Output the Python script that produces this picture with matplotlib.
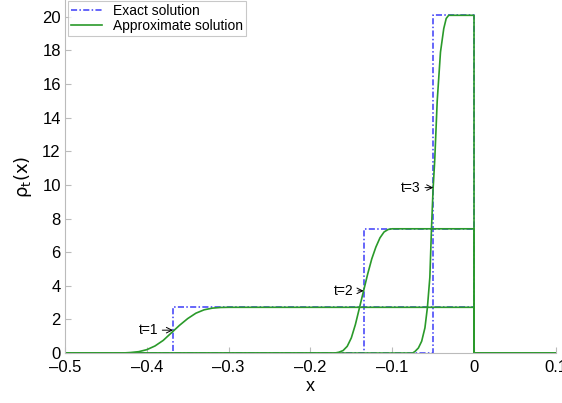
import matplotlib.pyplot as plt

plt.rcParams['font.family'] = ['Liberation Sans', 'DejaVu Sans']

# exact solution: rho_t = height on [start, 0]
times = [1, 2, 3]
exact_start = [-0.368, -0.135, -0.0498]
exact_height = [2.72, 7.39, 20.09]

# approximate solution
approx_x1 = [-0.5, -0.43, -0.42, -0.41, -0.40, -0.39, -0.38, -0.37, -0.36, -0.35,
             -0.34, -0.33, -0.32, -0.31, -0.30, 0.0, 0.0, 0.1]
approx_y1 = [0, 0, 0.03, 0.08, 0.2, 0.42, 0.75, 1.2, 1.65, 2.05,
             2.37, 2.57, 2.67, 2.71, 2.72, 2.72, 0, 0]

approx_x2 = [-0.5, -0.17, -0.165, -0.16, -0.155, -0.15, -0.145, -0.14, -0.135, -0.13,
             -0.125, -0.12, -0.115, -0.11, -0.105, -0.10, 0.0, 0.0, 0.1]
approx_y2 = [0, 0, 0.05, 0.15, 0.4, 0.9, 1.7, 2.7, 3.7, 4.7,
             5.6, 6.3, 6.85, 7.2, 7.35, 7.39, 7.39, 0, 0]

approx_x3 = [-0.5, -0.075, -0.072, -0.068, -0.064, -0.060, -0.057, -0.054, -0.052, -0.050,
             -0.048, -0.045, -0.041, -0.037, -0.034, -0.031, 0.0, 0.0, 0.1]
approx_y3 = [0, 0, 0.1, 0.3, 0.7, 1.5, 2.7, 4.5, 7.4, 9.8,
             11.5, 15.0, 17.9, 19.3, 19.9, 20.09, 20.09, 0, 0]

approx = [(approx_x1, approx_y1), (approx_x2, approx_y2), (approx_x3, approx_y3)]

# label text position (x, y) for each time
label_pos = [(-0.41, 1.36), (-0.171, 3.7), (-0.089, 9.84)]

blue = '#3c3cf8'
green = '#2a9a2a'

fig = plt.figure(figsize=(5.62, 4.03), dpi=100)
ax = fig.add_axes([0.1157, 0.124, 0.8733, 0.876])

for i, (s, h) in enumerate(zip(exact_start, exact_height)):
    ax.plot([-0.5, s, s, 0, 0, 0.1], [0, 0, h, h, 0, 0], color=blue, lw=1.1,
            dashes=(4, 1.5, 1, 1.5), label='Exact solution' if i == 0 else None)
for i, (xs, ys) in enumerate(approx):
    ax.plot(xs, ys, color=green, lw=1.2, label='Approximate solution' if i == 0 else None)

for t, s, h, (tx, ty) in zip(times, exact_start, exact_height, label_pos):
    ax.annotate(f't={t}', xy=(s, ty), xytext=(tx, ty), fontsize=10, va='center',
                arrowprops=dict(arrowstyle='->', lw=0.7, color='black', shrinkA=1, shrinkB=0))

ax.set_xlim(-0.5, 0.1)
ax.set_ylim(0, 21)
ax.set_xticks([-0.5, -0.4, -0.3, -0.2, -0.1, 0, 0.1])
ax.set_xticklabels(['\u20130.5', '\u20130.4', '\u20130.3', '\u20130.2', '\u20130.1', '0', '0.1'])
ax.set_yticks(range(0, 21, 2))
ax.tick_params(direction='in', length=4, color='#bbbbbb', labelsize=12, pad=3)
ax.tick_params(axis='x', pad=5)
for side in ['top', 'right']:
    ax.spines[side].set_visible(False)
for side in ['left', 'bottom']:
    ax.spines[side].set_color('#bbbbbb')
    ax.spines[side].set_linewidth(0.8)

ax.set_xlabel('x', fontsize=13, labelpad=2)
ax.set_ylabel(r'$\rm\rho_t(x)$', fontsize=13, labelpad=6)

leg = ax.legend(loc='upper left', bbox_to_anchor=(0.004, 1.0), fontsize=10, fancybox=False,
                handlelength=2.2, borderpad=0.2, labelspacing=0.05, borderaxespad=0.1)
leg.get_frame().set_edgecolor('#bbbbbb')
leg.get_frame().set_linewidth(0.8)

fig.savefig('out.png', dpi=100)
